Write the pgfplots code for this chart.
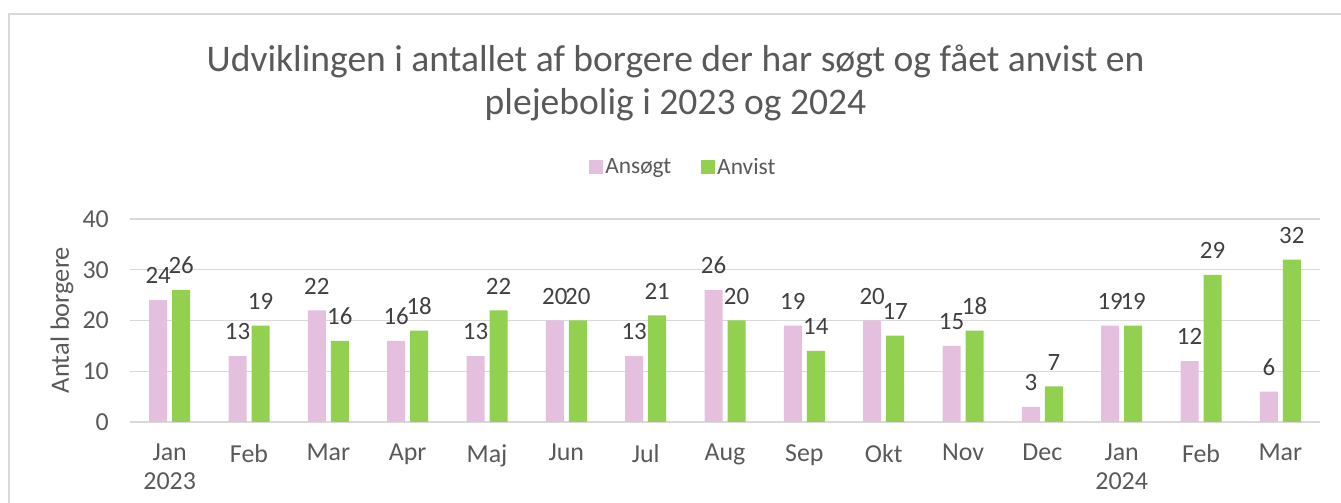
\documentclass[border=0pt]{standalone}
\usepackage{pgfplots}
\pgfplotsset{compat=1.18}
\usepackage{fontspec}
\setmainfont{Carlito}
\definecolor{pinkc}{HTML}{E4C0DE}
\definecolor{greenc}{HTML}{92D050}
\definecolor{gridc}{HTML}{D9D9D9}
\definecolor{txtc}{HTML}{595959}
\definecolor{lblc}{HTML}{404040}
\begin{document}
\begin{tikzpicture}[x=1bp,y=1bp]
\useasboundingbox (0,0) rectangle (1341,503);
\begin{scope}
\clip (0,0) rectangle (1341,503);
\draw[line width=2bp, color=gridc] (9,-5) -- (9,489) -- (1360,489);
\end{scope}
\node[text=txtc, align=center, font=\fontsize{37.7}{43}\selectfont] at (675.5,420) {Udviklingen i antallet af borgere der har søgt og fået anvist en\\plejebolig i 2023 og 2024};
\node[text=txtc, rotate=90, font=\fontsize{26.5}{30}\selectfont] at (62,183) {Antal borgere};
\begin{axis}[
  at={(130bp,81bp)}, anchor=south west,
  scale only axis, width=1190bp, height=203bp,
  xmin=-0.5, xmax=14.5, ymin=0, ymax=40,
  ybar, bar width=18bp, ybar=5bp,
  ytick={0,10,20,30,40},
  xtick={0,...,14},
  xticklabels={{Jan\\2023},Feb,Mar,Apr,Maj,Jun,Jul,Aug,Sep,Okt,Nov,Dec,{Jan\\2024},Feb,Mar},
  /pgf/number format/assume math mode=true,
  ymajorgrids, grid style={gridc, line width=1.3bp},
  axis lines*=left,
  y axis line style={draw=none},
  x axis line style={draw=gridc, line width=1.5bp},
  major tick length=0pt,
  tick style={draw=none},
  ticklabel style={text=txtc, font=\fontsize{26}{28.5}\selectfont},
  yticklabel style={anchor=east, inner sep=0pt, xshift=-21bp},
  xticklabel style={align=center, anchor=north, inner sep=0pt, yshift=-22bp},
  nodes near coords,
  every node near coord/.append style={text=lblc, font=\fontsize{25}{28}\selectfont, inner sep=0pt, yshift=16bp},
  legend columns=2,
  legend style={draw=none, fill=none, at={(0.465,1.256)}, anchor=center, font=\fontsize{23.5}{27}\selectfont, text=txtc, /tikz/every even column/.append style={column sep=28bp}, /tikz/every odd column/.append style={column sep=0bp}},
  legend image code/.code={\fill[#1] (-6bp,-7bp) rectangle (8bp,7bp);},
  clip=false,
]
\addplot[fill=pinkc, draw=none] coordinates {(0,24) (1,13) (2,22) (3,16) (4,13) (5,20) (6,13) (7,26) (8,19) (9,20) (10,15) (11,3) (12,19) (13,12) (14,6)};
\addplot[fill=greenc, draw=none] coordinates {(0,26) (1,19) (2,16) (3,18) (4,22) (5,20) (6,21) (7,20) (8,14) (9,17) (10,18) (11,7) (12,19) (13,29) (14,32)};
\legend{Ansøgt,Anvist}
\end{axis}
\end{tikzpicture}
\end{document}
